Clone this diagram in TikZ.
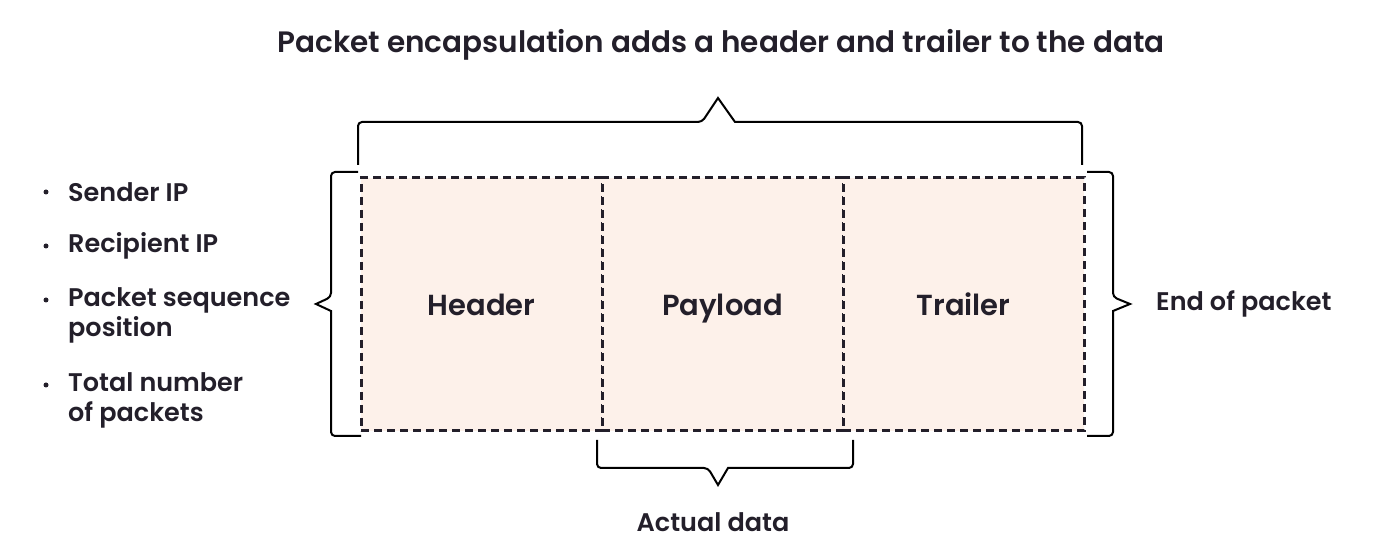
\documentclass[tikz,border=0pt]{standalone}
\usepackage{fontspec}
\setmainfont{Poppins}[BoldFont={* SemiBold}]
\usetikzlibrary{positioning}

\definecolor{inkdark}{HTML}{231F2A}
\definecolor{cellfill}{HTML}{FDF1EA}

\tikzset{
  cell/.style={draw=inkdark,line width=3pt,dash pattern=on 8pt off 5pt,fill=cellfill,
               minimum width=241pt,minimum height=253pt,inner sep=0pt,outer sep=0pt,
               text height=25pt,text depth=2pt,
               font=\bfseries\fontsize{29}{32}\selectfont,text=inkdark},
  brace/.style={draw=black,line width=2pt,rounded corners=4pt,line join=miter},
  label/.style={font=\bfseries\fontsize{25.5}{30}\selectfont,text=inkdark,inner sep=0pt},
  item/.style={label,anchor=west,align=left},
  dot/.style={circle,fill=inkdark,inner sep=0pt,minimum size=5pt}
}

\begin{document}
\begin{tikzpicture}[x=1pt,y=1pt]
\useasboundingbox (0,0) rectangle (1392,557);

\node[font=\bfseries\fontsize{29.5}{32}\selectfont,text=inkdark] (title) at (721,512)
  {Packet encapsulation adds a header and trailer to the data};

% packet cells
\begin{scope}
    \node[cell] (hdr) at (481.5,252.5) {Header};
    \node[cell,right=0pt of hdr] (pay) {Payload};
    \node[cell,right=0pt of pay] (trl) {Trailer};
\end{scope}

% brackets
\draw[brace] ([xshift=-3pt,yshift=13pt]hdr.north west) -- ++(0,43) -- (702,435)
    [sharp corners] -- (718,459) -- (735,435) [rounded corners=4pt] -- ([xshift=-2pt,yshift=56pt]trl.north east)
    -- ([xshift=-2pt,yshift=13pt]trl.north east);
\draw[brace] ([xshift=-3pt,yshift=6pt]hdr.north west) -- (331,385) -- (331,260)
    [sharp corners] -- (316,253) -- (331,246) [rounded corners=4pt] -- (331,121)
    -- ([yshift=-5pt]hdr.south west);
\draw[brace] ([xshift=3pt,yshift=6pt]trl.north east) -- (1113,385) -- (1113,260)
    [sharp corners] -- (1130,253) -- (1113,246) [rounded corners=4pt] -- (1113,121)
    -- ([xshift=3pt,yshift=-5pt]trl.south east);
\draw[brace] ([xshift=-5pt,yshift=-9pt]pay.south west) -- (597,89) -- (708,89)
    [sharp corners] -- (718,72) -- (728,89) [rounded corners=4pt] -- (853,89)
    -- ([xshift=10pt,yshift=-9pt]pay.south east);

\node[label] (actual) at (713,35) {Actual data};
\node[label,anchor=west] (endpkt) at (1156,253) {End of packet};

% header fields
\node[item] (f1) at (68,365) {Sender IP};
\node[item] (f2) at (68,311) {Recipient IP};
\node[item] (f3) at (68,242) {Packet sequence\\position};
\node[item] (f4) at (68,157) {Total number\\of packets};
\foreach \n/\y in {f1/365,f2/311,f3/257,f4/172}
    \node[dot] (b\n) at (46,\y) {};
\end{tikzpicture}
\end{document}
